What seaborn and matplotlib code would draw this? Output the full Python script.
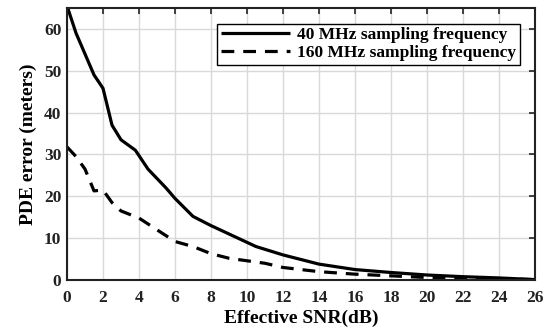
import numpy as np
import pandas as pd
import matplotlib
matplotlib.use("Agg")
import matplotlib.pyplot as plt
import seaborn as sns

# values
snr_40 = [0, 0.5, 1.0, 1.5, 2.0, 2.5, 3.0, 3.8, 4.5, 5.5, 6.0, 7.0, 8.0, 9.0,
          10.5, 12.0, 14.0, 16.0, 18.0, 20.0, 22.0, 24.0, 26.0]
err_40 = [65.5, 59.0, 54.0, 49.0, 45.8, 37.0, 33.5, 31.0, 26.5, 22.0, 19.5, 15.2,
          13.0, 11.0, 8.0, 6.0, 3.8, 2.5, 1.8, 1.2, 0.8, 0.5, 0.1]
snr_160 = [0, 0.5, 1.0, 1.5, 2.0, 2.5, 3.0, 4.0, 5.0, 6.0, 7.0, 8.0, 9.0, 10.0,
           11.0, 12.0, 14.0, 16.0, 18.0, 20.0, 22.0, 24.0, 26.0]
err_160 = [31.8, 29.5, 26.5, 21.3, 21.5, 18.5, 16.5, 14.8, 12.0, 9.2, 8.0, 6.3,
           5.2, 4.6, 4.0, 3.0, 2.0, 1.4, 1.0, 0.6, 0.4, 0.3, 0.1]
labels = ["40 MHz sampling frequency", "160 MHz sampling frequency"]

df = pd.concat([
    pd.DataFrame({"snr": snr_40, "err": err_40, "series": labels[0]}),
    pd.DataFrame({"snr": snr_160, "err": err_160, "series": labels[1]}),
])

sns.set_style("whitegrid")
plt.rcParams["font.family"] = ["Liberation Serif", "DejaVu Serif"]
plt.rcParams["font.weight"] = "bold"
plt.rcParams["text.color"] = "black"
plt.rcParams["axes.labelcolor"] = "black"

fig = plt.figure(figsize=(5.47, 3.31), dpi=100)
ax = fig.add_axes([0.1225, 0.154, 0.8555, 0.822])

sns.lineplot(data=df, x="snr", y="err", hue="series", style="series",
             palette=["black", "black"], dashes=[(1, 0), (4, 2.8)],
             linewidth=2.3, ax=ax, sort=False)

ax.set_xlim(0, 26)
ax.set_ylim(0, 65)
ax.set_xticks(np.arange(0, 27, 2))
ax.set_yticks(np.arange(0, 61, 10))
ax.grid(True, color="#d9d9d9", linewidth=1.0)
for s in ax.spines.values():
    s.set_color("#222222")
    s.set_linewidth(1.5)
ax.tick_params(direction="in", length=4, width=1.2, top=True, right=True,
               labelsize=12.5, colors="#222222", pad=4)
ax.tick_params(axis="x", pad=7)
for lab in ax.get_xticklabels() + ax.get_yticklabels():
    lab.set_fontweight("bold")

ax.set_xlabel("Effective SNR(dB)", fontsize=14, fontweight="bold", labelpad=3)
ax.set_ylabel("PDE error (meters)", fontsize=14, fontweight="bold", labelpad=5)

leg = ax.legend(loc="upper right", bbox_to_anchor=(0.975, 0.955), fontsize=12.5,
                frameon=True, fancybox=False, handlelength=4.0,
                borderpad=0.2, labelspacing=0.1, handletextpad=0.4,
                borderaxespad=0.2)
leg.get_frame().set_edgecolor("black")
leg.get_frame().set_linewidth(1.0)
leg.get_frame().set_alpha(1)
for t in leg.get_texts():
    t.set_fontweight("bold")

fig.savefig("out.png", dpi=100)
